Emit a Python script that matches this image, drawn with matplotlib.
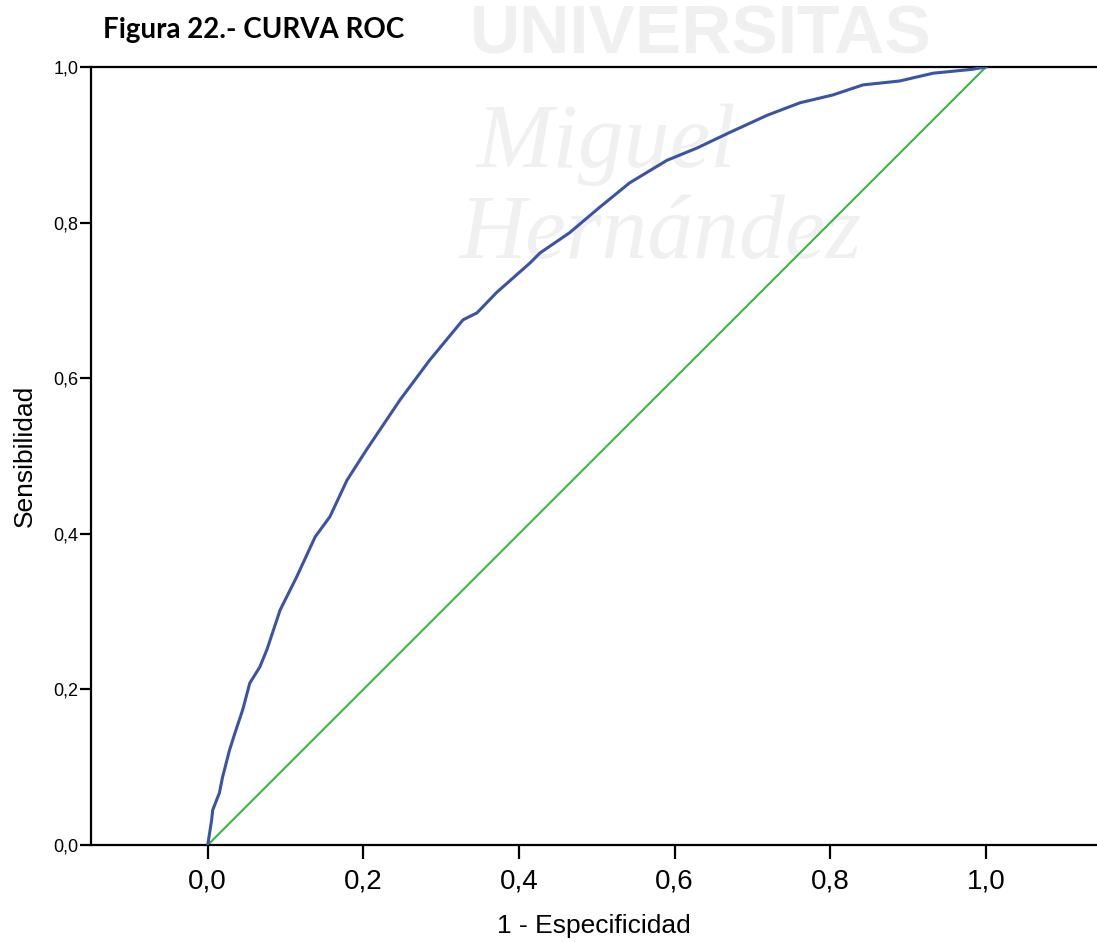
import matplotlib
matplotlib.use("Agg")
import matplotlib.pyplot as plt

plt.rcParams["font.family"] = ["Liberation Sans", "DejaVu Sans"]

# ROC curve: 1 - specificity (x) vs. sensitivity (y)
fpr = [0.0, 0.005, 0.0064, 0.015, 0.019, 0.028, 0.035, 0.045, 0.054, 0.067,
       0.076, 0.093, 0.114, 0.138, 0.157, 0.179, 0.204, 0.247, 0.285, 0.328,
       0.346, 0.371, 0.414, 0.427, 0.465, 0.504, 0.542, 0.590, 0.629, 0.671,
       0.719, 0.761, 0.803, 0.842, 0.889, 0.932, 0.982, 1.0]
tpr = [0.0, 0.032, 0.045, 0.067, 0.087, 0.122, 0.144, 0.174, 0.208, 0.229,
       0.251, 0.302, 0.344, 0.396, 0.422, 0.469, 0.508, 0.572, 0.623, 0.675,
       0.684, 0.710, 0.748, 0.761, 0.787, 0.820, 0.851, 0.880, 0.896, 0.916,
       0.938, 0.954, 0.964, 0.977, 0.982, 0.992, 0.997, 1.0]

# Reference line (chance)
ref_x = [0.0, 1.0]
ref_y = [0.0, 1.0]

xticks = [0.0, 0.2, 0.4, 0.6, 0.8, 1.0]
yticks = [0.0, 0.2, 0.4, 0.6, 0.8, 1.0]

W, H = 1097, 942
fig = plt.figure(figsize=(W / 100, H / 100), dpi=100)
ax = fig.add_axes([91 / W, (H - 845) / H, (W - 91) / W, (845 - 67) / H])
ax.set_zorder(1)
ax.set_facecolor("none")

# faint watermark behind the chart
wm = "#f0f0f0"
fig.text(470 / W, 1 - 36 / H, "UNIVERSITAS", color=wm, fontsize=50,
         fontweight="bold", va="center", ha="left", zorder=-1)
fig.text(476 / W, 1 - 145 / H, "Miguel", color=wm, fontsize=66,
         fontstyle="italic", family="Liberation Serif", va="center", ha="left",
         zorder=-1)
fig.text(460 / W, 1 - 236 / H, "Hernández", color=wm, fontsize=66,
         fontstyle="italic", family="Liberation Serif", va="center", ha="left",
         zorder=-1)

ax.plot(fpr, tpr, color="#3A53A4", lw=2.2, solid_joinstyle="round", zorder=3)
ax.plot(ref_x, ref_y, color="#39B54A", lw=1.5, zorder=2)

ax.set_xlim(-0.15, (W - 208) / 778)
ax.set_ylim(0.0, 1.0)

ax.set_xticks(xticks)
ax.set_xticklabels([f"{v:.1f}".replace(".", ",") for v in xticks], fontsize=20)
ax.set_yticks(yticks)
ax.set_yticklabels([f"{v:.1f}".replace(".", ",") for v in yticks], fontsize=13)
ax.tick_params(axis="x", length=10, width=1.6, pad=7, direction="out")
ax.tick_params(axis="y", length=8, width=1.6, pad=1, direction="out")

for side in ("left", "bottom", "top"):
    ax.spines[side].set_linewidth(1.6)
    ax.spines[side].set_color("black")
ax.spines["right"].set_visible(False)

ax.set_xlabel("1 - Especificidad", fontsize=19, labelpad=14)
ax.set_ylabel("Sensibilidad", fontsize=19, labelpad=12)

fig.text(103 / W, 1 - 30 / H, "Figura 22.- CURVA ROC", fontsize=20,
         fontweight="bold", family="Lato", va="center", ha="left", zorder=2)

fig.savefig("out.png", dpi=100)
